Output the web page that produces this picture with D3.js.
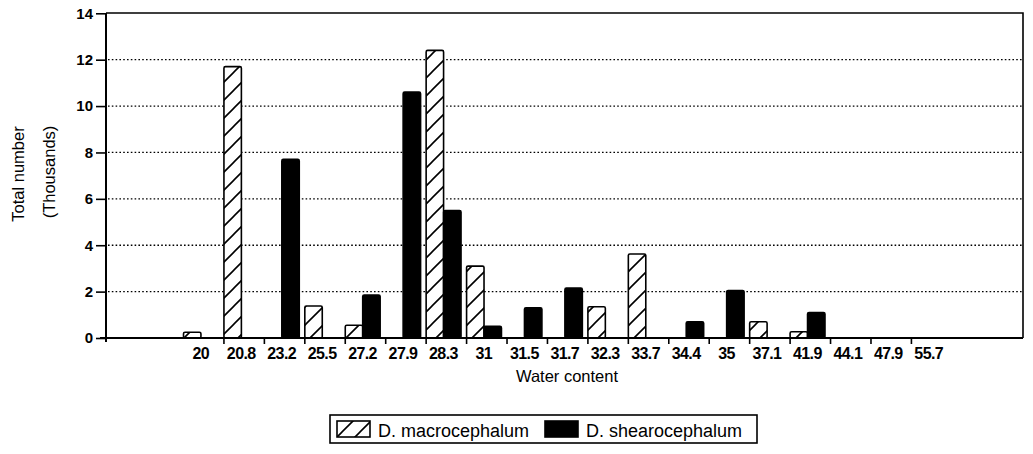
<!DOCTYPE html>
<html><head><meta charset="utf-8">
<script src="https://cdn.jsdelivr.net/npm/d3@7/dist/d3.min.js"></script>
<style>body{margin:0;background:#fff}svg{display:block}text{font-family:"Liberation Sans",Arial,sans-serif;fill:#000}</style>
</head><body><svg id="c" width="1033" height="454"></svg>
<script>
const categories = ["20","20.8","23.2","25.5","27.2","27.9","28.3","31","31.5","31.7","32.3","33.7","34.4","35","37.1","41.9","44.1","47.9","55.7"];
const macrocephalum = [0.25,11.7,0,1.38,0.55,0,12.4,3.1,0,0,1.35,3.62,0,0,0.7,0.27,0,0,0];
const shearocephalum = [0,0,7.7,0,1.85,10.6,5.5,0.5,1.3,2.15,0,0,0.7,2.05,0,1.1,0,0,0];
const yTicks = [0,2,4,6,8,10,12,14];
const seriesNames = ["D. macrocephalum","D. shearocephalum"];

const svg = d3.select("#c");
const L = 106, R = 1023, T = 13, B = 338;
const y = d3.scaleLinear().domain([0,14]).range([B, T+0.3]);
const x = d3.scaleBand().domain(categories).range([183, 183 + 19*40.44]).padding(0);
const x1 = d3.scaleBand().domain(["m","s"]).range([0.5, x.bandwidth()*0.875]).padding(0);

const defs = svg.append("defs");
const pat = defs.append("pattern").attr("id","hatch").attr("patternUnits","userSpaceOnUse")
  .attr("width",18).attr("height",18);
pat.append("rect").attr("width",18).attr("height",18).attr("fill","#fff");
pat.append("path").attr("d","M-4.5,22.5 L22.5,-4.5 M-4.5,4.5 L4.5,-4.5 M13.5,22.5 L22.5,13.5")
  .attr("stroke","#000").attr("stroke-width",1.6);

// gridlines
svg.append("g").selectAll("line").data(yTicks.filter(d=>d>0 && d<14)).join("line")
  .attr("x1",L+2).attr("x2",R).attr("y1",d=>y(d)).attr("y2",d=>y(d))
  .attr("stroke","#000").attr("stroke-width",1.3).attr("stroke-dasharray","1.6,2.2");

// frame
svg.append("path").attr("d",`M${L},${T} L${R},${T} L${R},${B}`).attr("fill","none").attr("stroke","#000").attr("stroke-width",1.6);

// y axis
const ya = svg.append("g").attr("transform",`translate(${L},0)`)
  .call(d3.axisLeft(y).tickValues(yTicks).tickSize(10).tickPadding(2).tickFormat(d3.format("d")));
ya.select(".domain").attr("stroke-width",2).attr("d",`M0,${T}V${B+4}`);
ya.selectAll(".tick line").attr("stroke-width",1.6);
ya.selectAll("text").attr("font-size",15).attr("font-weight","bold").attr("dx",-1);

// bars
const g = svg.append("g");
categories.forEach((c,i)=>{
  const vals = [["m",macrocephalum[i]],["s",shearocephalum[i]]];
  vals.forEach(([k,v])=>{
    if(v<=0) return;
    g.append("rect").attr("x",x(c)+x1(k)).attr("width",x1.bandwidth())
      .attr("y",y(v)).attr("height",y(0)-y(v)).attr("rx",1.5)
      .attr("fill",k==="m"?"url(#hatch)":"#000")
      .attr("stroke","#000").attr("stroke-width",1.6);
  });
});

// x axis
svg.append("line").attr("x1",L-6).attr("x2",R).attr("y1",B).attr("y2",B).attr("stroke","#000").attr("stroke-width",2);
svg.append("g").selectAll("line").data(categories.slice(1)).join("line")
  .attr("x1",d=>x(d)+0.5).attr("x2",d=>x(d)+0.5).attr("y1",B).attr("y2",B+6)
  .attr("stroke","#000").attr("stroke-width",1.6);
svg.append("g").selectAll("text").data(categories).join("text")
  .attr("x",d=>x(d)+x.bandwidth()*0.44).attr("y",358.5).attr("text-anchor","middle")
  .attr("font-size",16).attr("font-weight","bold").attr("letter-spacing",-0.6).text(d=>d);

// axis titles
svg.append("text").attr("x",567).attr("y",382).attr("text-anchor","middle").attr("font-size",16.5).text("Water content");
svg.append("text").attr("transform","translate(24,174) rotate(-90)").attr("text-anchor","middle").attr("font-size",16.5).text("Total number");
svg.append("text").attr("transform","translate(55,172) rotate(-90)").attr("text-anchor","middle").attr("font-size",16.5).text("(Thousands)");

// legend
const lg = svg.append("g");
lg.append("rect").attr("x",330).attr("y",415).attr("width",427).attr("height",28).attr("fill","#fff").attr("stroke","#000").attr("stroke-width",1.6);
const legX = [337,545];
seriesNames.forEach((n,i)=>{
  lg.append("rect").attr("x",legX[i]).attr("y",421).attr("width",33).attr("height",16)
    .attr("fill",i===0?"url(#hatch)":"#000").attr("stroke","#000").attr("stroke-width",1.6);
  lg.append("text").attr("x",legX[i]+41).attr("y",436.5).attr("font-size",18).text(n);
});
</script></body></html>
